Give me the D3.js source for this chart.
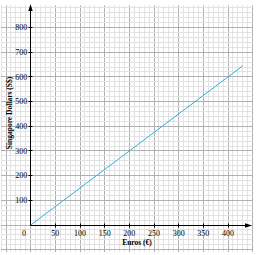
<!DOCTYPE html>
<html>
<head>
<meta charset="utf-8">
<script src="https://cdn.jsdelivr.net/npm/d3@7"></script>
<style>
  body { margin: 0; background: #fff; }
  svg { display: block; }
</style>
</head>
<body>
<div id="chart"></div>
<script>
// conversion line, euros -> singapore dollars
var euros = [0, 430];
var sgd = [0, 645];

var xTicks = [50, 100, 150, 200, 250, 300, 350, 400];
var yTicks = [100, 200, 300, 400, 500, 600, 700, 800];

var width = 257, height = 255;

var svg = d3.select('#chart').append('svg')
    .attr('width', width)
    .attr('height', height);

var x = d3.scaleLinear().domain([0, 400]).range([30.7, 228]);
var y = d3.scaleLinear().domain([0, 800]).range([225, 27.5]);

// snap to pixel so the paper lines stay crisp
function px(v) { return Math.round(v - 0.5) + 0.5; }

// graph paper grid, extends past the axes
var gx0 = -60, gx1 = 450, gy0 = -110, gy1 = 890;

var grid = svg.append('g');
d3.range(gx0, gx1 + 1, 10).forEach(function(v) {
    var major = v % 50 == 0;
    grid.append('line')
        .attr('x1', px(x(v))).attr('x2', px(x(v)))
        .attr('y1', y(gy1)).attr('y2', y(gy0))
        .attr('stroke', major ? '#b0b0b0' : '#e2e2e2')
        .attr('stroke-width', 1);
});
d3.range(gy0 + 10, gy1, 20).forEach(function(v) {
    var major = v % 100 == 0;
    grid.append('line')
        .attr('x1', x(gx0)).attr('x2', x(gx1))
        .attr('y1', px(y(v))).attr('y2', px(y(v)))
        .attr('stroke', major ? '#b0b0b0' : '#e2e2e2')
        .attr('stroke-width', 1);
});

// data line
var data = euros.map(function(e, i) { return {e: e, s: sgd[i]}; });
var line = d3.line().x(d => x(d.e)).y(d => y(d.s));
svg.append('path')
    .attr('d', line(data))
    .attr('fill', 'none')
    .attr('stroke', '#2fb2d2')
    .attr('stroke-width', 1);

// axes with arrowheads
var ox = px(x(0)), oy = px(y(0));
var axes = svg.append('g').attr('stroke', '#000').attr('stroke-width', 1);
axes.append('line')
    .attr('x1', ox).attr('x2', 249)
    .attr('y1', oy).attr('y2', oy);
axes.append('line')
    .attr('x1', ox).attr('x2', ox)
    .attr('y1', oy).attr('y2', 8);
svg.append('path')
    .attr('d', 'M252,' + oy + ' L245,' + (oy - 2.2) + ' L245,' + (oy + 2.2) + ' Z')
    .attr('fill', '#000');
svg.append('path')
    .attr('d', 'M' + ox + ',4 L' + (ox - 2.2) + ',11 L' + (ox + 2.2) + ',11 Z')
    .attr('fill', '#000');

// ticks
xTicks.forEach(function(t) {
    axes.append('line')
        .attr('x1', px(x(t))).attr('x2', px(x(t)))
        .attr('y1', oy - 2).attr('y2', oy + 2);
});
yTicks.forEach(function(t) {
    axes.append('line')
        .attr('x1', ox - 2).attr('x2', ox + 2)
        .attr('y1', px(y(t))).attr('y2', px(y(t)));
});

var font = "'Liberation Serif', 'Times New Roman', serif";

svg.append('g').selectAll('text')
    .data(xTicks).join('text')
    .attr('x', d => x(d))
    .attr('y', y(0) + 10.5)
    .attr('text-anchor', 'middle')
    .attr('font-family', font)
    .attr('font-size', '8px')
    .text(d => d);

svg.append('g').selectAll('text')
    .data(yTicks).join('text')
    .attr('x', x(0) - 3.5)
    .attr('y', d => y(d) + 2.8)
    .attr('text-anchor', 'end')
    .attr('font-family', font)
    .attr('font-size', '8px')
    .text(d => d);

svg.append('text')
    .attr('x', 24)
    .attr('y', y(0) + 10.5)
    .attr('text-anchor', 'middle')
    .attr('font-family', font)
    .attr('font-size', '8px')
    .text('0');

// axis titles
svg.append('text')
    .attr('x', 137)
    .attr('y', 245)
    .attr('text-anchor', 'middle')
    .attr('font-family', font)
    .attr('font-weight', 'bold')
    .attr('font-size', '7.5px')
    .text('Euros (€)');

svg.append('g')
    .attr('transform', 'translate(11.5,113) rotate(-90)')
    .append('text')
    .attr('text-anchor', 'middle')
    .attr('font-family', font)
    .attr('font-weight', 'bold')
    .attr('font-size', '7.5px')
    .text('Singapore Dollars (S$)');
</script>
</body>
</html>
